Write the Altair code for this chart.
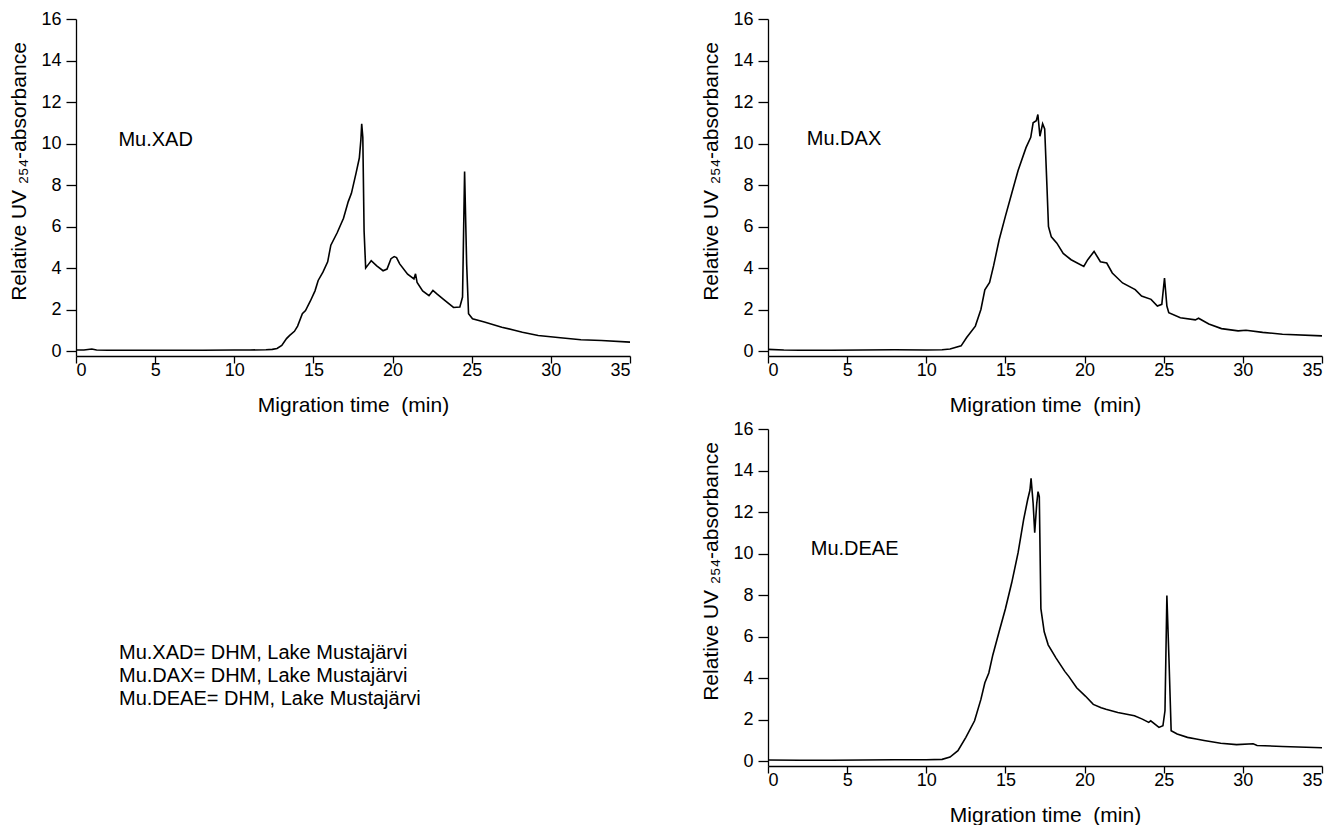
import altair as alt
import pandas as pd

FONT = "Liberation Sans"

# ---- Mu.XAD ----
xad_t = [0, 0.5, 1.0, 1.3, 2, 4, 6, 8, 10, 11, 12, 12.4, 12.7, 13.0, 13.3, 13.5, 13.8, 14.0, 14.3, 14.5,
         14.8, 15.1, 15.3, 15.6, 15.9, 16.1, 16.5, 16.9, 17.2, 17.4, 17.7, 17.9, 18.0, 18.05, 18.12, 18.2,
         18.3, 18.5, 18.65, 19.0, 19.4, 19.65, 19.9, 20.1, 20.25, 20.45, 20.95, 21.35, 21.45, 21.55, 21.9,
         22.3, 22.55, 22.8, 23.2, 23.85, 24.25, 24.42, 24.55, 24.68, 24.8, 25.05, 25.8, 26.9, 27.7, 28.2,
         29.2, 30.6, 31.9, 33.2, 35]
xad_a = [0.05, 0.05, 0.1, 0.05, 0.04, 0.04, 0.04, 0.04, 0.05, 0.05, 0.06, 0.08, 0.12, 0.27, 0.6, 0.75, 0.95,
         1.2, 1.8, 1.95, 2.4, 2.9, 3.4, 3.8, 4.3, 5.1, 5.7, 6.4, 7.2, 7.6, 8.6, 9.3, 10.2, 10.95, 10.3, 5.8,
         4.0, 4.2, 4.35, 4.1, 3.87, 3.95, 4.45, 4.55, 4.5, 4.2, 3.7, 3.47, 3.72, 3.3, 2.9, 2.67, 2.92, 2.75,
         2.5, 2.1, 2.12, 2.6, 8.65, 4.2, 1.8, 1.55, 1.4, 1.15, 1.0, 0.9, 0.75, 0.64, 0.54, 0.51, 0.43]

# ---- Mu.DAX ----
dax_t = [0, 1, 2, 4, 6, 8, 10, 11, 11.5, 12.2, 12.55, 13.1, 13.45, 13.7, 14.0, 14.25, 14.6, 15.0, 15.4,
         15.8, 16.3, 16.6, 16.75, 16.95, 17.05, 17.18, 17.35, 17.48, 17.62, 17.72, 17.9, 18.25, 18.65,
         19.15, 19.95, 20.2, 20.6, 21.0, 21.4, 21.75, 22.4, 23.2, 23.6, 24.2, 24.6, 24.88, 25.05, 25.2,
         25.32, 26.05, 27.0, 27.2, 27.85, 28.65, 29.7, 30.2, 31.25, 32.5, 35]
dax_a = [0.08, 0.05, 0.04, 0.04, 0.05, 0.06, 0.05, 0.06, 0.1, 0.25, 0.65, 1.2, 2.0, 2.95, 3.3, 4.1, 5.35,
         6.5, 7.6, 8.7, 9.8, 10.3, 11.0, 11.1, 11.4, 10.35, 10.95, 10.7, 8.0, 6.0, 5.5, 5.2, 4.7, 4.4, 4.08,
         4.4, 4.8, 4.3, 4.24, 3.76, 3.28, 2.96, 2.65, 2.49, 2.17, 2.25, 3.52, 2.17, 1.85, 1.6, 1.5, 1.58,
         1.3, 1.08, 0.97, 1.0, 0.9, 0.81, 0.73]

# ---- Mu.DEAE ----
deae_t = [0, 2, 4, 6, 8, 10, 11, 11.5, 12.0, 12.5, 13.05, 13.45, 13.7, 13.95, 14.2, 14.6, 15.0, 15.4, 15.8,
          16.15, 16.4, 16.55, 16.62, 16.75, 16.85, 16.98, 17.06, 17.14, 17.24, 17.45, 17.7, 18.2, 18.75,
          19.0, 19.5, 20.05, 20.55, 21.05, 21.35, 22.1, 23.15, 23.65, 24.05, 24.18, 24.7, 24.95, 25.08,
          25.2, 25.33, 25.47, 25.85, 26.5, 27.05, 27.55, 28.6, 29.6, 30.65, 30.9, 32.5, 35]
deae_a = [0.05, 0.04, 0.04, 0.05, 0.06, 0.06, 0.08, 0.19, 0.5, 1.14, 1.94, 2.97, 3.77, 4.24, 5.1, 6.23,
          7.34, 8.6, 10.04, 11.63, 12.58, 13.06, 13.62, 12.42, 11.0, 12.42, 12.98, 12.74, 7.34, 6.23, 5.6,
          4.96, 4.32, 4.08, 3.53, 3.13, 2.73, 2.57, 2.49, 2.34, 2.18, 2.02, 1.86, 1.94, 1.62, 1.7, 2.42,
          7.98, 4.96, 1.46, 1.3, 1.14, 1.06, 0.99, 0.86, 0.79, 0.83, 0.75, 0.7, 0.64]

x_ticks = [i * 2.5 for i in range(15)]
y_ticks = list(range(0, 17))
panel_names = ["Mu.XAD", "Mu.DAX", "Mu.DEAE"]
label_pos_t = [2.68, 2.45, 2.7]
label_pos_a = [10.15, 10.2, 10.2]
legend_lines = ["Mu.XAD= DHM, Lake Mustajärvi",
                "Mu.DAX= DHM, Lake Mustajärvi",
                "Mu.DEAE= DHM, Lake Mustajärvi"]

X_TITLE = "Migration time\u00a0 (min)"
Y_TITLE = "Relative UV ₂₅₄-absorbance"

W, H = 554, 337
Y_TITLE_POS = [152, 152, 142]


def panel(t, a, idx):
    df = pd.DataFrame({"t": t, "a": a})
    xenc = alt.X("t:Q", title=X_TITLE,
                 scale=alt.Scale(domain=[0, 35], nice=False, zero=False),
                 axis=alt.Axis(values=x_ticks,
                               labelExpr="datum.value % 5 === 0 ? datum.label : ''",
                               tickSize={"condition": {"test": "datum.value % 5 === 0", "value": 7}, "value": 4},
                               labelPadding=-2, titlePadding=15))
    yenc = alt.Y("a:Q", title=Y_TITLE,
                 scale=alt.Scale(domain=[-0.24, 16], nice=False, zero=False),
                 axis=alt.Axis(values=y_ticks,
                               labelExpr="datum.value % 2 === 0 ? datum.label : ''",
                               tickSize={"condition": {"test": "datum.value % 2 === 0", "value": 10}, "value": 6},
                               labelPadding=5, titlePadding=11, titleY=Y_TITLE_POS[idx]))
    line = alt.Chart(df).mark_line(color="black", strokeWidth=1.6).encode(x=xenc, y=yenc)
    ldf = pd.DataFrame({"t": [label_pos_t[idx]], "a": [label_pos_a[idx]], "s": [panel_names[idx]]})
    lab = alt.Chart(ldf).mark_text(align="left", baseline="middle", font=FONT, fontSize=20,
                                   color="black").encode(
        x=alt.X("t:Q", title=X_TITLE), y=alt.Y("a:Q", title=Y_TITLE), text="s:N")
    return alt.layer(line, lab).properties(width=W, height=H)


p1 = panel(xad_t, xad_a, 0)
p2 = panel(dax_t, dax_a, 1)
p3 = panel(deae_t, deae_a, 2)

tdf = pd.DataFrame({"s": ["\n".join(legend_lines)]})
txt = alt.Chart(tdf).mark_text(align="left", baseline="top", font=FONT, fontSize=20, color="black",
                               lineBreak="\n", lineHeight=23).encode(
    x=alt.value(43), y=alt.value(214), text="s:N").properties(width=567, height=H)

top = alt.hconcat(p1, p2, spacing=66)
bottom = alt.hconcat(txt, p3, spacing=57)
chart = alt.vconcat(top, bottom, spacing=5).properties(
    padding={"left": 0, "top": 2, "right": 0, "bottom": 0}
).configure_view(stroke=None).configure_axis(
    grid=False, domainColor="black", domainWidth=1.3, tickColor="black", tickWidth=1.3,
    labelFont=FONT, labelFontSize=18, labelColor="black",
    titleFont=FONT, titleFontSize=21, titleColor="black", titleFontWeight="normal"
)

chart.save("out.html", embed_options={"renderer": "svg", "actions": False})
